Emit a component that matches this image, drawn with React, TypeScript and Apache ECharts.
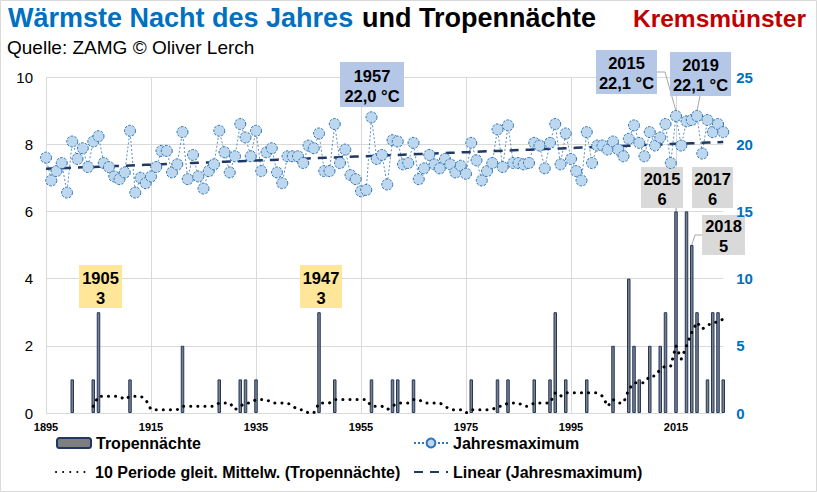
import React, { useEffect, useRef } from "react";
import * as echarts from "echarts";

const FIRST_YEAR = 1895;

// Jahresmaximum der Tagesminimumtemperatur (°C), 1895–2024
const maxTemp: number[] = [
  19.0, 17.3, 18.0, 18.6, 16.4, 20.2, 18.9, 19.7, 18.3, 20.2,
  20.6, 18.6, 18.3, 17.6, 17.4, 17.9, 21.0, 16.4, 17.5, 17.1,
  17.6, 18.3, 19.5, 19.5, 17.9, 18.5, 20.9, 17.4, 19.2, 17.6,
  16.7, 18.0, 18.5, 21.0, 19.4, 17.9, 19.1, 21.5, 20.5, 19.1,
  21.0, 18.0, 19.4, 19.7, 17.9, 17.1, 19.1, 19.1, 19.1, 18.6,
  19.9, 19.7, 20.8, 18.0, 18.0, 21.5, 18.6, 19.6, 17.7, 17.4,
  16.5, 16.6, 22.0, 18.9, 19.2, 17.0, 20.3, 20.2, 18.5, 18.6,
  20.1, 17.4, 18.2, 19.2, 18.5, 18.2, 18.9, 18.5, 17.9, 18.4,
  17.8, 20.1, 18.8, 17.3, 18.0, 18.6, 21.1, 18.3, 21.4, 18.6,
  18.6, 18.5, 18.6, 20.1, 19.9, 18.2, 20.1, 21.5, 18.5, 20.8,
  18.9, 18.0, 17.3, 20.9, 18.6, 19.9, 19.9, 19.6, 20.2, 19.6,
  19.1, 20.4, 21.4, 20.1, 19.1, 20.9, 19.9, 20.5, 21.5, 18.6,
  22.1, 19.9, 21.7, 21.8, 22.1, 19.3, 21.8, 20.9, 21.5, 20.9,
];

// Anzahl Tropennächte pro Jahr, 1895–2024
const tropicalNights: number[] = [
  0, 0, 0, 0, 0, 1, 0, 0, 0, 1,
  3, 0, 0, 0, 0, 0, 1, 0, 0, 0,
  0, 0, 0, 0, 0, 0, 2, 0, 0, 0,
  0, 0, 0, 1, 0, 0, 0, 1, 1, 0,
  1, 0, 0, 0, 0, 0, 0, 0, 0, 0,
  0, 0, 3, 0, 0, 1, 0, 0, 0, 0,
  0, 0, 1, 0, 0, 0, 1, 1, 0, 0,
  1, 0, 0, 0, 0, 0, 0, 0, 0, 0,
  0, 1, 0, 0, 0, 0, 1, 0, 1, 0,
  0, 0, 0, 1, 0, 0, 1, 3, 0, 1,
  0, 0, 0, 1, 0, 0, 0, 0, 2, 0,
  0, 4, 2, 1, 0, 2, 0, 2, 3, 0,
  6, 0, 6, 5, 3, 0, 1, 3, 3, 1,
];

const xTickLabels = ["1895", "1915", "1935", "1955", "1975", "1995", "2015"];
const leftTicks = { min: 0, max: 10, interval: 2 };
const rightTicks = { min: 0, max: 25, interval: 5 };

const years = maxTemp.map((_, i) => String(FIRST_YEAR + i));

const FONT = '"Liberation Sans", Arial, Helvetica, sans-serif';
const GRID_COLOR = "#D9D9D9";

const S_BAR = "Tropennächte";
const S_TEMP = "Jahresmaximum";
const S_MA = "10 Periode gleit. Mittelw. (Tropennächte)";
const S_LIN = "Linear (Jahresmaximum)";

export default function App() {
  const ref = useRef<HTMLDivElement>(null);

  useEffect(() => {
    const chart = echarts.init(ref.current!, null, { renderer: "svg" });

    const barData = tropicalNights.map((v) => (v === 0 ? "-" : v));
    const movingAvg = tropicalNights.map((_, i) =>
      i < 9
        ? "-"
        : tropicalNights.slice(i - 9, i + 1).reduce((a, b) => a + b, 0) / 10
    );
    const n = maxTemp.length;
    const mx = (n - 1) / 2;
    const my = maxTemp.reduce((a, b) => a + b, 0) / n;
    let num = 0;
    let den = 0;
    maxTemp.forEach((v, i) => {
      num += (i - mx) * (v - my);
      den += (i - mx) * (i - mx);
    });
    const slope = num / den;
    const linear = maxTemp.map((_, i) => my + slope * (i - mx));

    const legendCommon = {
      padding: 0,
      itemWidth: 34,
      itemHeight: 10,
      selectedMode: false,
      textStyle: {
        fontFamily: FONT,
        fontSize: 16,
        fontWeight: "bold",
        color: "#000",
        lineHeight: 18,
      },
    };

    const isTick = (_i: number, v: string) => xTickLabels.includes(v);

    chart.setOption({
      animation: false,
      backgroundColor: "#fff",
      textStyle: { fontFamily: FONT },
      grid: { left: 46, right: 93.75, top: 77, bottom: 79, containLabel: false },
      legend: [
        { ...legendCommon, data: [S_BAR], left: 56, top: 434 },
        { ...legendCommon, data: [S_TEMP], left: 413, top: 434, itemHeight: 11 },
        { ...legendCommon, data: [S_MA], left: 55, top: 463, itemStyle: { opacity: 0 } },
        { ...legendCommon, data: [S_LIN], left: 413, top: 463, itemStyle: { opacity: 0 } },
      ],
      xAxis: {
        type: "category",
        data: years,
        boundaryGap: false,
        axisLine: { show: false },
        axisTick: { show: false },
        axisLabel: {
          interval: isTick,
          margin: 8,
          fontFamily: FONT,
          fontSize: 11,
          fontWeight: "bold",
          color: "#000",
        },
        splitLine: {
          show: true,
          interval: isTick,
          lineStyle: { color: GRID_COLOR, width: 1 },
        },
      },
      yAxis: [
        {
          type: "value",
          ...leftTicks,
          axisLine: { show: false },
          axisTick: { show: false },
          axisLabel: { fontFamily: FONT, fontSize: 15, color: "#000", margin: 13 },
          splitLine: { lineStyle: { color: GRID_COLOR, width: 1 } },
        },
        {
          type: "value",
          position: "right",
          ...rightTicks,
          axisLine: { show: false },
          axisTick: { show: false },
          axisLabel: {
            fontFamily: FONT,
            fontSize: 15,
            fontWeight: "bold",
            color: "#0070C0",
            margin: 13,
          },
          splitLine: { show: false },
        },
      ],
      series: [
        {
          name: S_BAR,
          type: "bar",
          yAxisIndex: 0,
          data: barData,
          barWidth: 3.5,
          clip: false,
          itemStyle: { color: "#7F7F7F", borderColor: "#1F3864", borderWidth: 1 },
        },
        {
          name: S_MA,
          type: "line",
          yAxisIndex: 0,
          data: movingAvg,
          symbol: "none",
          lineStyle: { color: "#000", width: 3, type: [0.1, 7], cap: "round" },
          itemStyle: { color: "#000" },
        },
        {
          name: S_TEMP,
          type: "line",
          yAxisIndex: 1,
          data: maxTemp,
          symbol: "circle",
          symbolSize: 11,
          showSymbol: true,
          showAllSymbol: true,
          lineStyle: { color: "#2E75B6", width: 0.8, type: [2, 2] },
          itemStyle: {
            color: "#BDD7EE",
            borderColor: "#2E75B6",
            borderWidth: 1,
            borderType: [2.5, 1.5],
          },
        },
        {
          name: S_LIN,
          type: "line",
          yAxisIndex: 1,
          data: linear,
          symbol: "none",
          lineStyle: { color: "#1F3864", width: 2.5, type: [9, 7] },
          itemStyle: { color: "#1F3864" },
        },
      ],
    });

    const idx = (y: number) => y - FIRST_YEAR;
    const tempPx = (y: number) =>
      chart.convertToPixel({ seriesIndex: 2 }, [idx(y), maxTemp[idx(y)]]) as number[];
    const barPx = (y: number) =>
      chart.convertToPixel({ seriesIndex: 0 }, [idx(y), tropicalNights[idx(y)]]) as number[];

    const box = (
      x: number,
      y: number,
      w: number,
      h: number,
      fill: string,
      text: string,
      size: number
    ) => ({
      type: "group",
      children: [
        { type: "rect", shape: { x, y, width: w, height: h }, style: { fill } },
        {
          type: "text",
          style: {
            text,
            x: x + w / 2,
            y: y + h / 2 + 1,
            align: "center",
            verticalAlign: "middle",
            textAlign: "center",
            textVerticalAlign: "middle",
            font: `bold ${size}px ${FONT}`,
            fill: "#000",
            lineHeight: 20,
          },
        },
      ],
    });

    const leader = (points: number[][]) => ({
      type: "polyline",
      shape: { points },
      style: { stroke: "#A6A6A6", lineWidth: 1, fill: "none" },
    });

    const t2015 = tempPx(2015);
    const t2019 = tempPx(2019);
    const b2015 = barPx(2015);
    const b2018 = barPx(2018);

    const title = (text: string, x: number, y: number, size: number, color: string, weight = "bold") => ({
      type: "text",
      style: {
        text,
        x,
        y,
        align: "left",
        verticalAlign: "middle",
        textAlign: "left",
        textVerticalAlign: "middle",
        font: `${weight} ${size}px ${FONT}`,
        fill: color,
      },
    });

    chart.setOption({
      graphic: [
        {
          type: "rect",
          shape: { x: 0.5, y: 0.5, width: 816, height: 491 },
          style: { fill: "none", stroke: "#D9D9D9", lineWidth: 1 },
        },
        title("Wärmste Nacht des Jahres", 8, 18, 27, "#0070C0"),
        title("und Tropennächte", 362, 18, 27, "#000"),
        title("Kremsmünster", 633, 18, 24.5, "#C00000"),
        title("Quelle: ZAMG © Oliver Lerch", 7, 47, 19, "#000", "normal"),
        leader([[657, 72], [665, 72], [t2015[0], t2015[1] - 5]]),
        leader([[700, 96], [t2019[0], t2019[1] - 5]]),
        leader([[b2015[0], 208], [b2015[0], b2015[1]]]),
        leader([[702, 235], [695, 235], [b2018[0], b2018[1]]]),
        box(340, 62, 64, 45, "#B4C7E7", "1957\n22,0 °C", 16.5),
        box(596, 50, 61, 44, "#B4C7E7", "2015\n22,1 °C", 16.5),
        box(670, 52, 61, 44, "#B4C7E7", "2019\n22,1 °C", 16.5),
        box(79, 265, 43, 43, "#FFE699", "1905\n3", 16.5),
        box(300, 265, 42, 43, "#FFE699", "1947\n3", 16.5),
        box(641, 167, 42, 41, "#D9D9D9", "2015\n6", 16.5),
        box(692, 167, 41, 41, "#D9D9D9", "2017\n6", 16.5),
        box(702, 215, 43, 40, "#D9D9D9", "2018\n5", 16.5),
      ],
    });

    return () => chart.dispose();
  }, []);

  return (
    <div
      ref={ref}
      style={{ position: "absolute", left: 0, top: 0, width: 817, height: 492 }}
    />
  );
}
